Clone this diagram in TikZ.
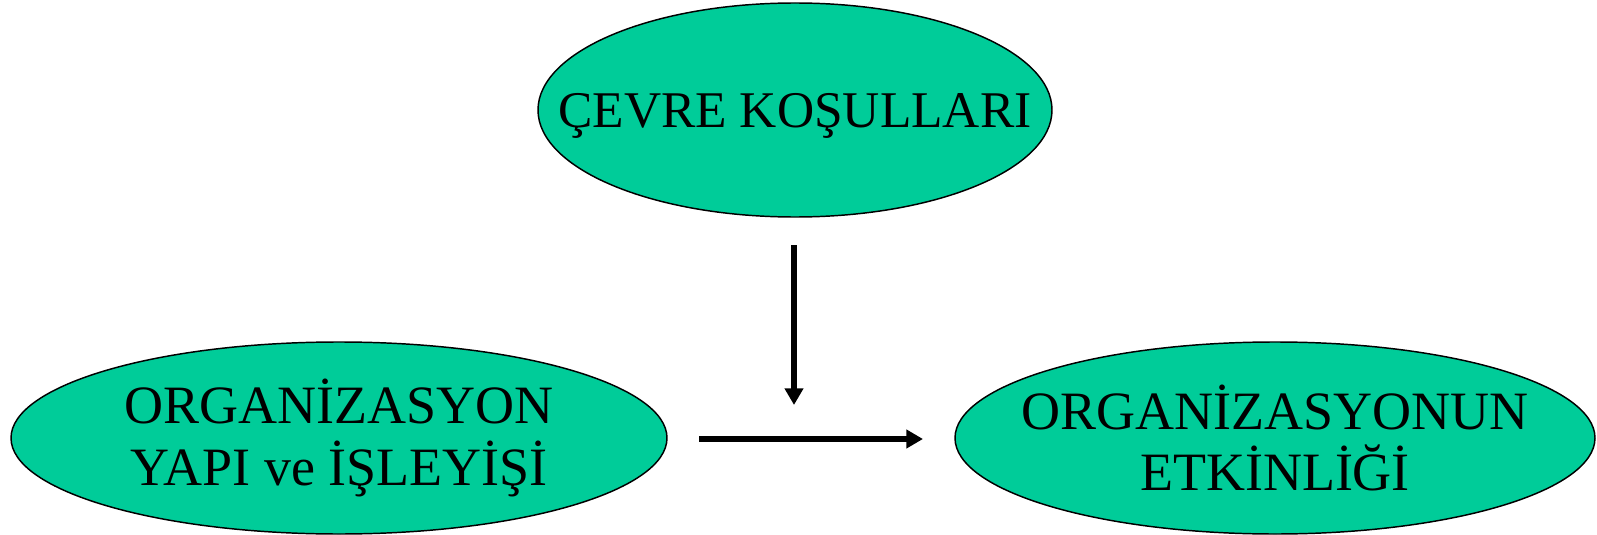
\documentclass[tikz,border=0pt]{standalone}
\usepackage{fontspec}
\setmainfont{Liberation Serif}
\usetikzlibrary{arrows.meta,positioning,shapes.geometric}
\definecolor{oval}{HTML}{00CC99}
\tikzset{font=\fontsize{40.5}{46}\selectfont}
% the ellipse size is fixed by minimum width/height, not by the text
\tikzset{blob/.style={ellipse,draw=black,line width=1.1pt,fill=oval,inner xsep=-70pt,inner ysep=0pt,align=center}}
\tikzset{pointer/.style={line width=4.5pt,-{Triangle[length=12.5pt,width=13.5pt]}}}

\begin{document}
\begin{tikzpicture}[x=0.75pt,y=-0.75pt]
\useasboundingbox (0,0) rectangle (1597,535);
\node[blob,minimum width=385.5pt,minimum height=160.5pt,text depth=0pt,font=\fontsize{38.6}{46}\selectfont] (cevre) at (795,110) {ÇEVRE KOŞULLARI};
\node[blob,minimum width=492pt,minimum height=144pt] (yapi) at (339,438) {ORGANİZASYON\\YAPI ve İŞLEYİŞİ};
\node[blob,minimum width=480pt,minimum height=144pt] (etkin) at (1275,438) {ORGANİZASYONUN\\ETKİNLİĞİ};
\coordinate (vtop) at (794,245);
\coordinate (vbot) at (794,405);
\coordinate (hleft) at (699,439);
\coordinate (hright) at (923,439);
\draw[pointer] (vtop)--(vbot);
\draw[pointer] (hleft)--(hright);
\end{tikzpicture}
\end{document}
